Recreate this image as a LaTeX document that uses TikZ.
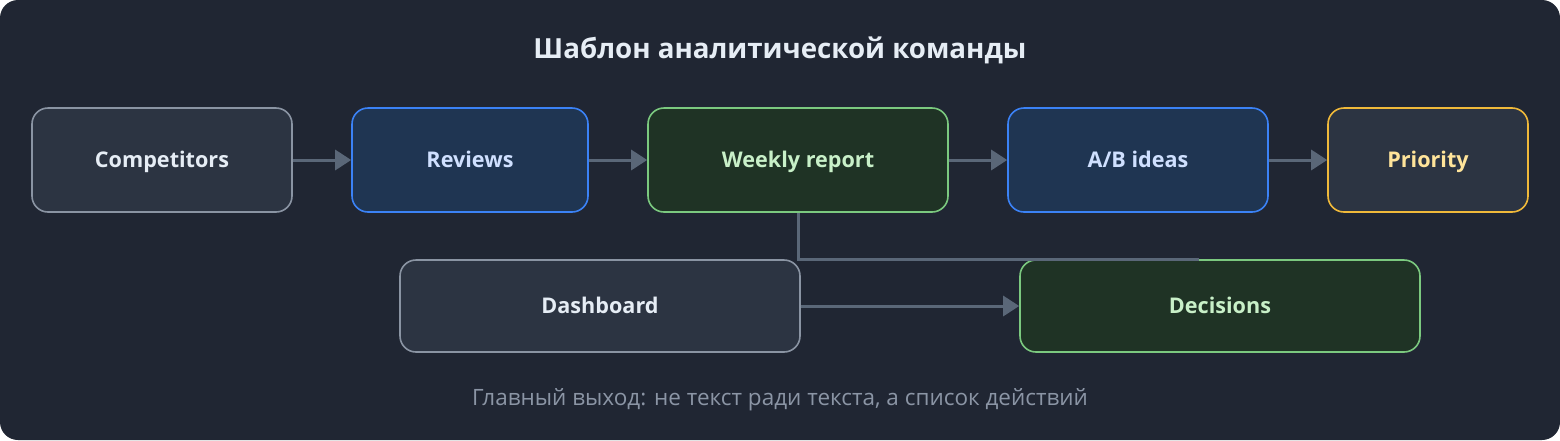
\documentclass[tikz,border=0pt]{standalone}
\usepackage{fontspec}
\setmainfont{Open Sans}
\usetikzlibrary{arrows.meta}
\definecolor{bgdark}{HTML}{202633}
\definecolor{fillgray}{HTML}{2C3442}
\definecolor{fillblue}{HTML}{1F3552}
\definecolor{fillgreen}{HTML}{1F3325}
\definecolor{linegray}{HTML}{8A94A3}
\definecolor{lineblue}{HTML}{3B82F6}
\definecolor{linegreen}{HTML}{7BC97F}
\definecolor{lineyellow}{HTML}{F0B93A}
\definecolor{txtwhite}{HTML}{E6EDF5}
\definecolor{txtblue}{HTML}{CFE0FF}
\definecolor{txtgreen}{HTML}{C8F0C8}
\definecolor{txtyellow}{HTML}{FFE49A}
\definecolor{arrowgray}{HTML}{5A6778}
\definecolor{footgray}{HTML}{8B95A5}
\begin{document}
\begin{tikzpicture}[x=1pt,y=-1pt,
  box/.style={rounded corners=16pt,line width=1.6pt,minimum height=104pt,
    font=\fontsize{21.6}{26}\selectfont\bfseries,inner sep=0pt,
    text height=18pt,text depth=4pt},
  graybox/.style={box,draw=linegray,fill=fillgray,text=txtwhite},
  bluebox/.style={box,draw=lineblue,fill=fillblue,text=txtblue},
  greenbox/.style={box,draw=linegreen,fill=fillgreen,text=txtgreen},
  yellowbox/.style={box,draw=lineyellow,fill=fillgray,text=txtyellow},
  flow/.style={draw=arrowgray,line width=3pt,-{Triangle[length=16pt,width=20pt]}}]
  \fill[bgdark,rounded corners=18pt] (0,0) rectangle (1560,440);
  \node[text=txtwhite,font=\fontsize{27.7}{32}\selectfont\bfseries] (title) at (780,50) {Шаблон аналитической команды};
  % top row
  \node[graybox,minimum width=260pt] (comp) at (162,160) {Competitors};
  \node[bluebox,minimum width=236pt] (rev) at (470,160) {Reviews};
  \node[greenbox,minimum width=300pt] (week) at (798,160) {Weekly report};
  \node[bluebox,minimum width=260pt] (ab) at (1138,160) {A/B ideas};
  \node[yellowbox,minimum width=200pt] (prio) at (1428,160) {Priority};
  % bottom row
  \node[graybox,minimum width=400pt,minimum height=92pt] (dash) at (600,306) {Dashboard};
  \node[greenbox,minimum width=400pt,minimum height=92pt] (dec) at (1220,306) {Decisions};
  \draw[flow] (comp) -- (rev);
  \draw[flow] (rev) -- (week);
  \draw[flow] (week) -- (ab);
  \draw[flow] (ab) -- (prio);
  \draw[flow] (dash) -- (dec);
  \coordinate (joinend) at (1199,259);
  \draw[draw=arrowgray,line width=3pt] (week.south) |- (joinend);
  \node[text=footgray,font=\fontsize{22.5}{27}\selectfont] (foot) at (780,400) {Главный выход: не текст ради текста, а список действий};
\end{tikzpicture}
\end{document}
